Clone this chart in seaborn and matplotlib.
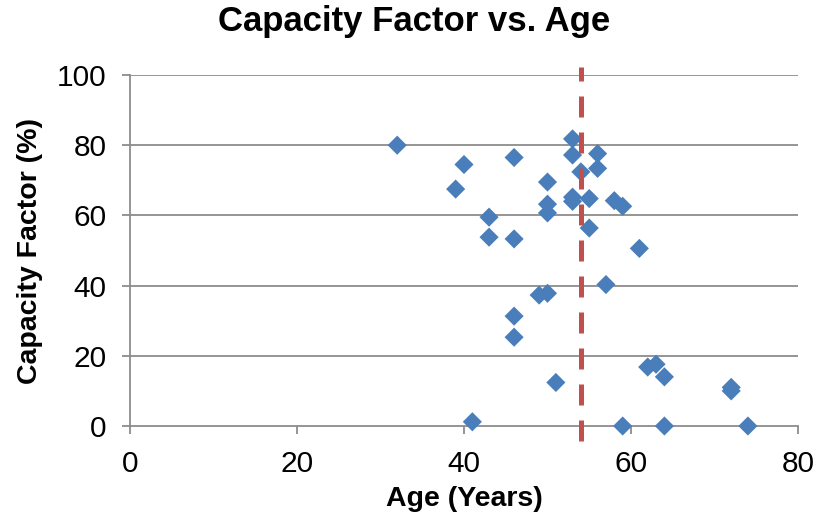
import matplotlib
matplotlib.use("Agg")
import matplotlib.pyplot as plt
import seaborn as sns
import pandas as pd

age = [32, 40, 39, 43, 43, 46, 46, 46, 46, 50, 50, 50, 49, 50, 51, 41,
       53, 53, 54, 56, 56, 53, 53, 55, 58, 59, 55, 61, 57, 62, 63, 64,
       72, 72, 59, 64, 74]
capacity_factor = [80, 74.5, 67.5, 59.5, 53.8, 76.5, 53.3, 31.3, 25.3, 69.5, 63.2, 60.7, 37.3, 37.8, 12.4, 1.2,
                   81.8, 77.2, 72.4, 77.6, 73.4, 65.2, 64.0, 64.8, 64.2, 62.6, 56.4, 50.6, 40.3, 16.8, 17.6, 14.0,
                   11.0, 10.0, 0, 0, 0]
threshold_age = 54
x_ticks = [0, 20, 40, 60, 80]
y_ticks = [0, 20, 40, 60, 80, 100]

df = pd.DataFrame({"Age": age, "CF": capacity_factor})

sns.set_style("white")
plt.rcParams['font.family'] = ['Liberation Sans', 'DejaVu Sans']
plt.rcParams['text.color'] = 'black'
plt.rcParams['axes.labelcolor'] = 'black'
plt.rcParams['xtick.color'] = 'black'
plt.rcParams['ytick.color'] = 'black'

fig = plt.figure(figsize=(8.31, 5.22), dpi=100)
ax = fig.add_axes([130/831, 1-426/522, (798-130)/831, (426-75)/522])

grid_c = "#8C8C8C"
for yv in y_ticks[1:]:
    ax.axhline(yv, color=grid_c, lw=1.3, zorder=0)

sns.scatterplot(data=df, x="Age", y="CF", marker="D", s=95, color="#4A7EBB",
                edgecolor="none", linewidth=0, ax=ax, zorder=3, clip_on=False)

ax.plot([threshold_age, threshold_age], [-4.3, 102.3], color="#C0504D", lw=3.6,
        dashes=(4.2, 3.0), clip_on=False, zorder=4, solid_capstyle="butt", dash_capstyle="butt")

ax.set_xlim(0, 80)
ax.set_ylim(0, 100)
ax.set_xticks(x_ticks)
ax.set_yticks(y_ticks)
ax.tick_params(axis="both", labelsize=21.5, length=6, width=1.3, color=grid_c, pad=11,
               direction="out", labelcolor="black")
ax.tick_params(axis="x", bottom=True)
ax.tick_params(axis="y", left=True)

for s in ["top", "right"]:
    ax.spines[s].set_visible(False)
for s in ["left", "bottom"]:
    ax.spines[s].set_color(grid_c)
    ax.spines[s].set_linewidth(1.3)

ax.set_xlabel("Age (Years)", fontsize=20.5, fontweight="bold", labelpad=6, color="black")
ax.set_ylabel("Capacity Factor (%)", fontsize=20.5, fontweight="bold", labelpad=10, color="black")
fig.suptitle("Capacity Factor vs. Age", fontsize=25, fontweight="bold", x=414/831, y=0.99,
             va="top", color="black")

fig.savefig("out.png", dpi=100)
